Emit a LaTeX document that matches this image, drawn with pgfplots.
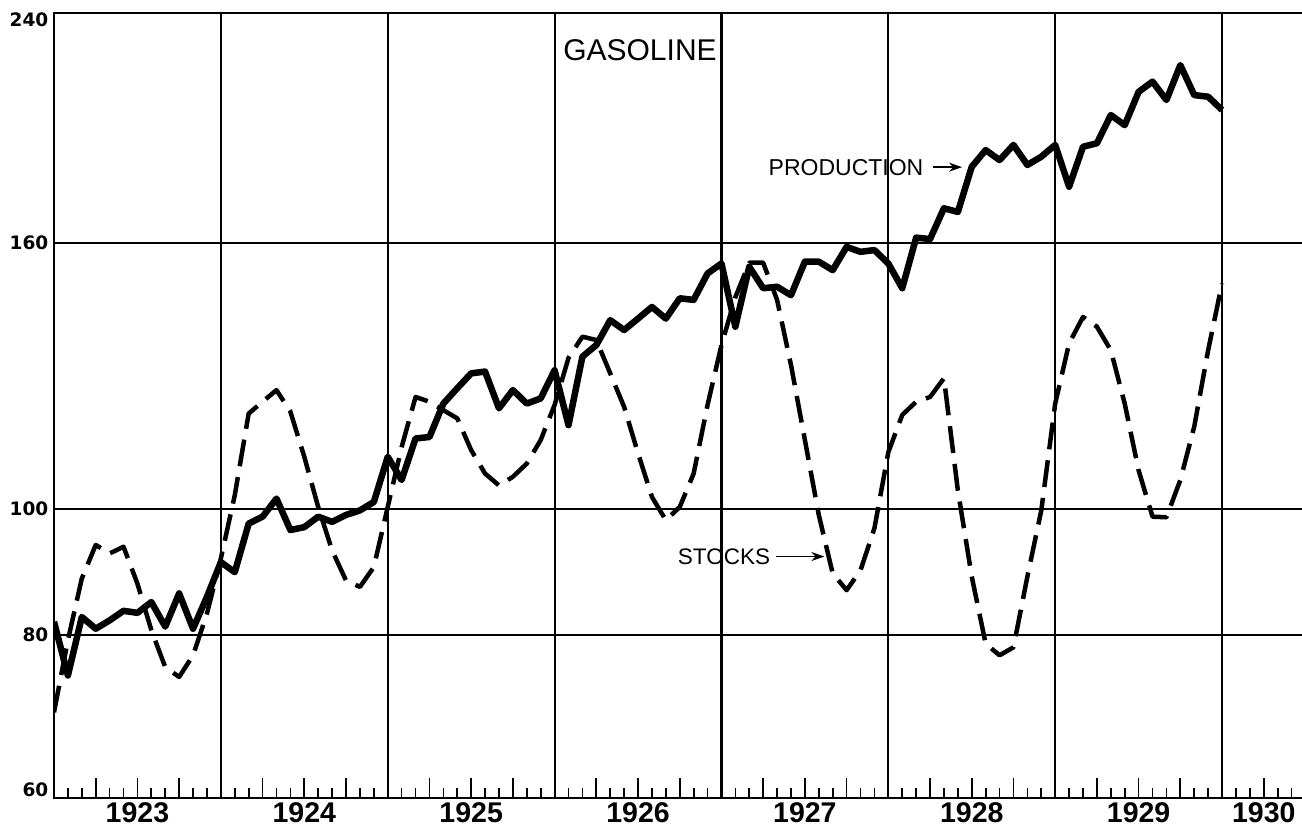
\documentclass[border=0pt]{standalone}
\usepackage{fontspec}
\setmainfont{Liberation Sans}
\newfontfamily\dejavu{DejaVu Sans}
\usepackage{pgfplots}
\usepackage{pgfplotstable}
\pgfplotsset{compat=1.18}
\usetikzlibrary{arrows.meta}

\pgfplotstableread{
k v
0 81.9
1 74.5
2 82.6
3 80.9
4 82.1
5 83.5
6 83.2
7 84.8
8 81.2
9 86.1
10 80.9
11 85.6
12 91.0
13 89.4
14 97.4
15 98.6
16 101.8
17 96.3
18 96.8
19 98.6
20 97.7
21 98.9
22 99.7
23 101.2
24 109.6
25 105.2
26 113.2
27 113.5
28 120.4
29 123.7
30 127.0
31 127.4
32 119.4
33 123.3
34 120.4
35 121.5
36 127.7
37 115.9
38 130.8
39 133.5
40 139.5
41 137.1
42 139.9
43 142.8
44 139.9
45 145.0
46 144.6
47 151.5
48 154.2
49 137.9
50 153.3
51 147.6
52 148.0
53 145.8
54 154.7
55 154.7
56 152.4
57 158.8
58 157.4
59 157.9
60 154.2
61 147.6
62 161.4
63 161.0
64 170.0
65 168.9
66 182.9
67 188.4
68 185.1
69 190.1
70 183.5
71 186.2
72 190.1
73 176.6
74 189.5
75 190.7
76 200.4
77 196.9
78 208.8
79 212.6
80 205.8
81 218.9
82 207.6
83 207.0
84 202.2
}\production

\pgfplotstableread{
k v
0 69.8
1 79.3
2 88.4
3 93.8
4 92.4
5 93.5
6 87.6
7 80.7
8 75.6
9 74.3
10 77.2
11 83.1
12 91.6
13 102.4
14 118.3
15 120.8
16 123.3
17 118.7
18 109.6
19 100.3
20 92.9
21 88.1
22 87.1
23 90.2
24 100.3
25 111.5
26 121.8
27 120.8
28 119.0
29 117.3
30 110.9
31 106.4
32 104.2
33 105.8
34 108.3
35 112.9
36 120.1
37 130.5
38 135.5
39 134.7
40 127.0
41 119.7
42 110.3
43 102.1
44 98.0
45 100.3
46 106.4
47 120.1
48 133.5
49 145.3
50 154.4
51 154.4
52 144.6
53 128.9
54 112.9
55 98.9
56 89.2
57 86.6
58 89.7
59 96.6
60 110.5
61 118.0
62 120.8
63 121.8
64 125.9
65 103.3
66 88.7
67 78.8
68 77.2
69 78.3
70 88.7
71 99.7
72 120.4
73 133.9
74 140.3
75 137.9
76 132.3
77 120.4
78 107.0
79 98.6
80 98.5
81 105.2
82 115.6
83 132.3
84 148.9
}\stocks

\begin{document}
\begin{tikzpicture}
\begin{axis}[
  at={(0pt,0pt)}, anchor=south west,
  scale only axis, width=1251.5pt, height=785pt,
  xmin=0, xmax=90, ymode=log, ymin=60, ymax=240,
  axis line style={line width=2.2pt, black},
  xtick={0,12,24,36,48,60,72,84}, xticklabels={},
  minor xtick={1,...,89},
  extra x ticks={3,6,9,15,18,21,27,30,33,39,42,45,51,54,57,63,66,69,75,78,81,87},
  extra x tick labels={},
  extra x tick style={grid=none, major tick length=20pt, tick style={line width=1.7pt, black}},
  ytick={60,80,100,160,240},
  yticklabels={\raisebox{1pt}[0pt][0pt]{60},\raisebox{-6.7pt}[0pt][0pt]{80},\raisebox{-6.7pt}[0pt][0pt]{100},\raisebox{-6.7pt}[0pt][0pt]{160},\raisebox{-14pt}[0pt][0pt]{240}},
  xmajorgrids, ymajorgrids,
  major grid style={black, line width=2.1pt},
  major tick length=0pt, minor tick length=10pt,
  minor tick style={black, line width=1.7pt},
  tick align=inside, xtick pos=bottom, ytick pos=left,
  yticklabel style={font=\dejavu\fontsize{18.5}{18.5}\selectfont\bfseries, inner sep=0pt, xshift=-5.5pt},
]
\addplot[black, line width=4.5pt, dash pattern=on 27pt off 11pt, line join=round] table[x=k, y=v] {\stocks};
\addplot[black, line width=6.5pt, line join=round] table[x=k, y=v] {\production};
\node[font=\fontsize{30}{30}\selectfont] at (axis cs:42.14,224.8) {GASOLINE};
\node[font=\fontsize{23}{23}\selectfont] at (axis cs:56.96,182.8) {PRODUCTION};
\draw[line width=1.7pt, -{Stealth[length=13pt,width=9pt]}] (axis cs:63.2,182.8) -- (axis cs:65.3,182.8);
\node[font=\fontsize{22.5}{22.5}\selectfont] at (axis cs:48.18,91.9) {STOCKS};
\draw[line width=1.7pt, -{Stealth[length=13pt,width=9pt]}] (axis cs:51.9,91.9) -- (axis cs:55.4,91.9);
\end{axis}
\begin{axis}[
  at={(0pt,0pt)}, anchor=south west,
  scale only axis, width=1251.5pt, height=785pt,
  xmin=0, xmax=90, ymin=0, ymax=1,
  axis line style={draw=none},
  ytick=\empty,
  xtick={6,18,30,42,54,66,78,87},
  xticklabels={1923,1924,1925,1926,1927,1928,1929,1930},
  major tick length=0pt, xtick pos=bottom,
  xticklabel style={font=\fontsize{28.5}{28.5}\selectfont\bfseries, inner sep=0pt, yshift=-4pt},
]
\end{axis}
\pgfresetboundingbox
\path (-54pt,-29pt) rectangle (1248pt,798pt);
\end{tikzpicture}
\end{document}
